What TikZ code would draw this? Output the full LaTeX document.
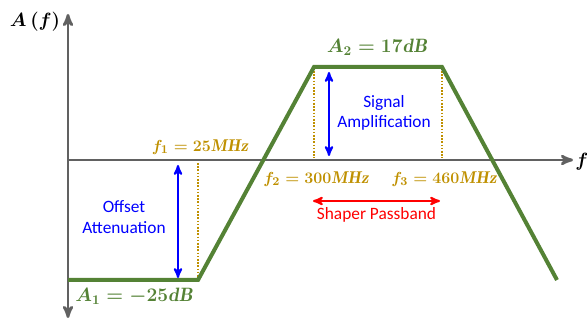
\documentclass[tikz,border=0pt]{standalone}
\usepackage{fontspec}
\setsansfont{Carlito}
\usepackage[dvipsnames]{xcolor}
\definecolor{colorGain}{RGB}{84,130,53}
\definecolor{colorFreq}{RGB}{191,144,0}
\colorlet{colorSpan}{blue}
\colorlet{colorBand}{red}
\colorlet{colorAxis}{black!62}
\usetikzlibrary{arrows, positioning, calc}
\tikzset{
  axis/.style={->, colorAxis, line width=2pt},
  gain/.style={colorGain, line width=3pt},
  fmark/.style={colorFreq, line width=1.6pt, dash pattern=on 1.2pt off 1.2pt},
  span/.style={<->, colorSpan, line width=1.5pt},
  mathlbl/.style={font=\fontsize{14.5}{17}\selectfont\boldmath},
  freqlbl/.style={text=colorFreq, inner sep=1pt, font=\fontsize{12.8}{15}\selectfont\boldmath},
  gainlbl/.style={text=colorGain, inner sep=1pt, font=\fontsize{14.5}{17}\selectfont\boldmath},
}

\begin{document}
\begin{tikzpicture}[x=0.75pt, y=-0.75pt, >=stealth', font=\sffamily\fontsize{13}{15.5}\selectfont]
\useasboundingbox (0,0) rectangle (587,320);
% axes
\coordinate (o) at (68,160);
\coordinate (ytop) at (68,14);
\coordinate (ybot) at (68,318);
\coordinate (xend) at (573,160);
\draw [axis, <->] (ybot) -- (ytop);
\draw [axis] (o) -- (xend);
\node[mathlbl] (lbA) at (35,22) {$A\,(f)$};
\node[mathlbl] (lbf) at (582,162) {$f$};
% gain curve
\coordinate (p0) at (68,280);
\coordinate (p1) at (198,280);
\coordinate (p2) at (314,67);
\coordinate (p3) at (442,67);
\coordinate (p4) at (557,280);
\coordinate (m1) at (198,163);
\coordinate (m2) at (314,158);
\coordinate (m3) at (442,158);
\draw [fmark] (m1) -- (p1);
\draw [fmark, shorten <=3pt] (p2) -- (m2);
\draw [fmark, shorten <=3pt] (p3) -- (m3);
\draw [gain] (p0) -- (p1) -- (p2) -- (p3) -- (p4);
\node[gainlbl] (lbA2) at (377,47) {$A_2 = 17\mathit{dB}$};
\node[gainlbl] (lbA1) at (134,296) {$A_1 = -25\mathit{dB}$};
% frequencies
\node[freqlbl] (lbf1) at (200,147) {$f_1 = 25\mathit{MHz}$};
\node[freqlbl] (lbf2) at (316,179) {$f_2 = 300\mathit{MHz}$};
\node[freqlbl] (lbf3) at (444,179) {$f_3 = 460\mathit{MHz}$};
% spans
\coordinate (s1a) at (178,165);
\coordinate (s1b) at (178,278);
\coordinate (s2a) at (329,72);
\coordinate (s2b) at (329,156);
\draw [span] (s1a) -- (s1b);
\draw [span] (s2a) -- (s2b);
\node[text=colorSpan, align=center] (offset) at (124,217) {Offset\\Attenuation};
\node[text=colorSpan, align=center] (signal) at (384,113) {Signal\\Amplification};
\coordinate (r1) at (313,201);
\coordinate (r2) at (440,201);
\draw [<->, colorBand, line width=1.5pt] (r1) -- (r2);
\node[text=colorBand, below=1pt of $(r1)!0.5!(r2)$] (passband) {Shaper Passband};
\end{tikzpicture}
\end{document}
